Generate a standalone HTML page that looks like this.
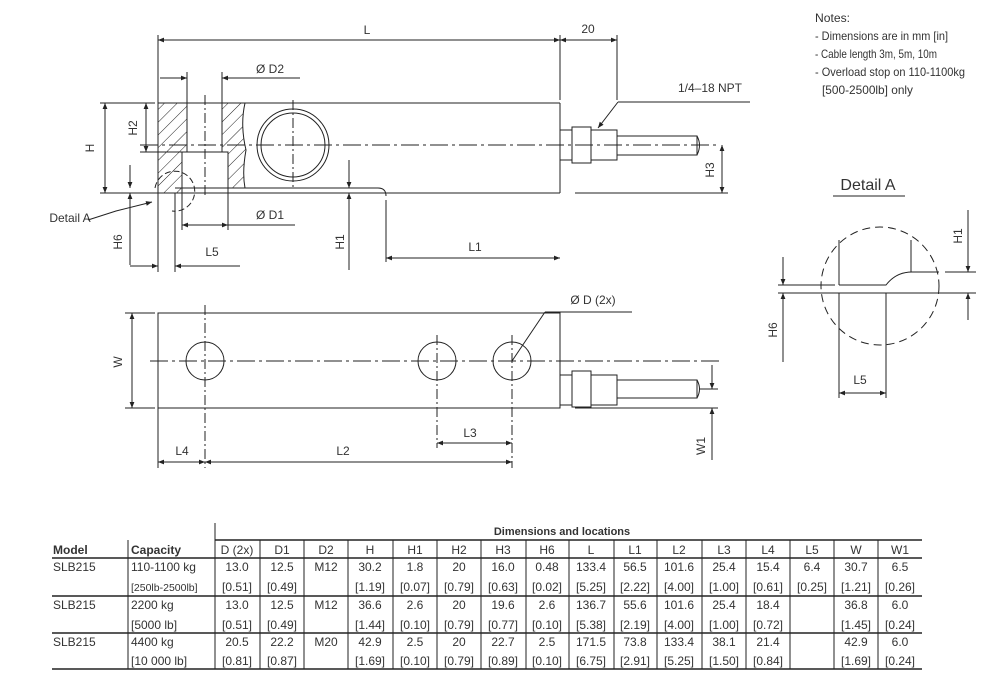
<!DOCTYPE html>
<html><head><meta charset="utf-8"><style>
html,body{margin:0;padding:0;background:#fff}
svg{display:block}
text{font-family:"Liberation Sans",sans-serif;font-size:12px;fill:#333}
</style></head><body>
<svg width="981" height="690" viewBox="0 0 981 690" xmlns="http://www.w3.org/2000/svg">
<defs>
<pattern id="h" width="9" height="9" patternUnits="userSpaceOnUse" patternTransform="rotate(45)">
<line x1="0" y1="0" x2="0" y2="9" stroke="#222" stroke-width="1"/></pattern>
<marker id="a" viewBox="0 0 10 10" refX="10" refY="5" markerWidth="10" markerHeight="6" orient="auto-start-reverse" markerUnits="userSpaceOnUse"><path d="M0,1 L10,5 L0,9z" fill="#222"/></marker>
</defs>
<g stroke="#222" stroke-width="1" fill="none">
<line x1="158" y1="103" x2="560" y2="103"/>
<line x1="560" y1="103" x2="560" y2="193"/>
<line x1="100" y1="193" x2="560" y2="193"/>
<path d="M175,188 L378,188 Q386,188 386,196"/>
<line x1="158" y1="35" x2="158" y2="272"/>
<line x1="560" y1="35" x2="560" y2="100"/>
<line x1="617" y1="35" x2="617" y2="100"/>
<path d="M158,103 H187 V152 H182 V193 H158Z" fill="url(#h)"/>
<path d="M222,103 H245 Q240,125 246,150 Q242,172 245,188 H228 V152 H222Z" fill="url(#h)"/>
<rect x="187" y="103" width="35" height="49"/>
<rect x="182" y="152" width="46" height="41"/>
<line x1="205" y1="95" x2="205" y2="198" stroke-dasharray="10,3,2,3"/>
<circle cx="293" cy="145" r="36"/><circle cx="293" cy="145" r="32"/>
<line x1="293" y1="100" x2="293" y2="190" stroke-dasharray="10,3,2,3"/>
<line x1="140" y1="145" x2="720" y2="145" stroke-dasharray="18,4,3,4"/>
<rect x="560" y="130" width="12" height="30"/>
<rect x="572" y="127" width="19" height="36"/>
<rect x="591" y="130" width="26" height="30"/>
<rect x="617" y="136" width="80" height="19"/>
<path d="M697,136 Q702,145 697,155"/>
<line x1="158" y1="40" x2="560" y2="40" marker-start="url(#a)" marker-end="url(#a)"/>
<line x1="560" y1="40" x2="617" y2="40" marker-start="url(#a)" marker-end="url(#a)"/>
<line x1="187" y1="72" x2="187" y2="103"/><line x1="222" y1="72" x2="222" y2="103"/>
<line x1="160" y1="78" x2="187" y2="78" marker-end="url(#a)"/>
<line x1="300" y1="78" x2="222" y2="78" marker-end="url(#a)"/>
<line x1="100" y1="103" x2="155" y2="103"/>
<line x1="105" y1="103" x2="105" y2="193" marker-start="url(#a)" marker-end="url(#a)"/>
<line x1="140" y1="152" x2="182" y2="152"/>
<line x1="146" y1="103" x2="146" y2="152" marker-start="url(#a)" marker-end="url(#a)"/>
<line x1="575" y1="193" x2="728" y2="193"/>
<line x1="722" y1="145" x2="722" y2="193" marker-start="url(#a)" marker-end="url(#a)"/>
<line x1="182" y1="193" x2="182" y2="230"/><line x1="228" y1="193" x2="228" y2="230"/>
<line x1="182" y1="225" x2="228" y2="225" marker-start="url(#a)" marker-end="url(#a)"/>
<line x1="228" y1="225" x2="295" y2="225"/>
<line x1="349" y1="160" x2="349" y2="188" marker-end="url(#a)"/>
<line x1="349" y1="270" x2="349" y2="193" marker-end="url(#a)"/>
<line x1="386" y1="200" x2="386" y2="262"/>
<line x1="386" y1="258" x2="560" y2="258" marker-start="url(#a)" marker-end="url(#a)"/>
<line x1="130" y1="165" x2="130" y2="188" marker-end="url(#a)"/>
<line x1="130" y1="265" x2="130" y2="193" marker-end="url(#a)"/>
<line x1="175" y1="193" x2="175" y2="272"/>
<line x1="130" y1="266" x2="158" y2="266" marker-end="url(#a)"/>
<line x1="240" y1="266" x2="175" y2="266" marker-end="url(#a)"/>
<path d="M155,188 A20,20 0 1 1 172,211" stroke-dasharray="6,3"/>
<path d="M88,220 L116,211 L152,202" marker-end="url(#a)"/>
<line x1="618" y1="102" x2="750" y2="102"/>
<line x1="618" y1="102" x2="598" y2="128" marker-end="url(#a)"/>
<rect x="158" y="313" width="402" height="95"/>
<circle cx="205" cy="361" r="19"/><circle cx="437" cy="361" r="19"/><circle cx="512" cy="361" r="19"/>
<line x1="150" y1="361" x2="720" y2="361" stroke-dasharray="18,4,3,4"/>
<line x1="205" y1="305" x2="205" y2="468" stroke-dasharray="10,3,2,3"/>
<line x1="437" y1="335" x2="437" y2="448" stroke-dasharray="10,3,2,3"/>
<line x1="512" y1="335" x2="512" y2="468" stroke-dasharray="10,3,2,3"/>
<rect x="560" y="375" width="12" height="30"/>
<rect x="572" y="371" width="19" height="36"/>
<rect x="591" y="375" width="26" height="30"/>
<rect x="617" y="380" width="80" height="18"/>
<path d="M697,380 Q702,389 697,398"/>
<line x1="125" y1="313" x2="155" y2="313"/><line x1="125" y1="408" x2="155" y2="408"/>
<line x1="132" y1="313" x2="132" y2="408" marker-start="url(#a)" marker-end="url(#a)"/>
<line x1="700" y1="389" x2="718" y2="389"/><line x1="575" y1="408" x2="718" y2="408"/>
<line x1="712" y1="365" x2="712" y2="389" marker-end="url(#a)"/>
<line x1="712" y1="460" x2="712" y2="408" marker-end="url(#a)"/>
<line x1="437" y1="443" x2="512" y2="443" marker-start="url(#a)" marker-end="url(#a)"/>
<line x1="158" y1="408" x2="158" y2="468"/>
<line x1="158" y1="462" x2="205" y2="462" marker-start="url(#a)" marker-end="url(#a)"/>
<line x1="205" y1="462" x2="512" y2="462" marker-start="url(#a)" marker-end="url(#a)"/>
<line x1="512" y1="361" x2="545" y2="312"/><line x1="545" y1="312" x2="632" y2="312"/>
<line x1="833" y1="196" x2="905" y2="196"/>
<circle cx="880" cy="286" r="59" stroke-dasharray="8,5"/>
<line x1="839" y1="240" x2="839" y2="285"/>
<path d="M839,285 H886 Q896,272 912,272 H939"/>
<line x1="911" y1="240" x2="911" y2="272"/>
<line x1="778" y1="285" x2="835" y2="285"/>
<line x1="778" y1="293" x2="976" y2="293"/>
<line x1="945" y1="272" x2="976" y2="272"/>
<line x1="839" y1="293" x2="839" y2="398"/>
<line x1="886" y1="293" x2="886" y2="398"/>
<line x1="839" y1="393" x2="886" y2="393" marker-start="url(#a)" marker-end="url(#a)"/>
<line x1="783" y1="257" x2="783" y2="285" marker-end="url(#a)"/>
<line x1="783" y1="362" x2="783" y2="293" marker-end="url(#a)"/>
<line x1="968" y1="210" x2="968" y2="272" marker-end="url(#a)"/>
<line x1="968" y1="320" x2="968" y2="293" marker-end="url(#a)"/>
<line x1="215" y1="523" x2="215" y2="669"/>
<line x1="215" y1="540" x2="922" y2="540" stroke-width="1.5"/>
<line x1="52" y1="558" x2="922" y2="558" stroke-width="1.5"/>
<line x1="52" y1="596" x2="922" y2="596" stroke-width="1.5"/>
<line x1="52" y1="633" x2="922" y2="633" stroke-width="1.5"/>
<line x1="52" y1="669" x2="922" y2="669" stroke-width="1.5"/>
<path d="M128,540 V669 M260,540 V669 M304,540 V669 M348,540 V669 M393,540 V669 M437,540 V669 M481,540 V669 M526,540 V669 M569,540 V669 M614,540 V669 M657,540 V669 M702,540 V669 M746,540 V669 M790,540 V669 M834,540 V669 M878,540 V669"/>
</g>
<g>
<text x="367" y="34" text-anchor="middle">L</text>
<text x="588" y="33" text-anchor="middle">20</text>
<text x="270" y="73" text-anchor="middle">Ø D2</text>
<text x="710" y="92" text-anchor="middle">1/4–18 NPT</text>
<text x="270" y="219" text-anchor="middle">Ø D1</text>
<text x="475" y="251" text-anchor="middle">L1</text>
<text x="212" y="256" text-anchor="middle">L5</text>
<text x="70" y="222" text-anchor="middle">Detail A</text>
<text transform="translate(94,148) rotate(-90)" text-anchor="middle">H</text>
<text transform="translate(137,128) rotate(-90)" text-anchor="middle">H2</text>
<text transform="translate(714,170) rotate(-90)" text-anchor="middle">H3</text>
<text transform="translate(344,242) rotate(-90)" text-anchor="middle">H1</text>
<text transform="translate(122,242) rotate(-90)" text-anchor="middle">H6</text>
<text transform="translate(122,362) rotate(-90)" text-anchor="middle">W</text>
<text transform="translate(705,446) rotate(-90)" text-anchor="middle">W1</text>
<text x="593" y="304" text-anchor="middle">Ø D (2x)</text>
<text x="470" y="437" text-anchor="middle">L3</text>
<text x="182" y="455" text-anchor="middle">L4</text>
<text x="343" y="455" text-anchor="middle">L2</text>
<text x="868" y="190" text-anchor="middle" style="font-size:16px">Detail A</text>
<text x="860" y="384" text-anchor="middle">L5</text>
<text transform="translate(962,236) rotate(-90)" text-anchor="middle">H1</text>
<text transform="translate(777,330) rotate(-90)" text-anchor="middle">H6</text>
<g style="font-size:11px">
<text x="815" y="22" textLength="35" lengthAdjust="spacingAndGlyphs">Notes:</text>
<text x="815" y="40" textLength="133" lengthAdjust="spacingAndGlyphs">- Dimensions are in mm [in]</text>
<text x="815" y="58" textLength="122" lengthAdjust="spacingAndGlyphs">- Cable length 3m, 5m, 10m</text>
<text x="815" y="76" textLength="150" lengthAdjust="spacingAndGlyphs">- Overload stop on 110-1100kg</text>
<text x="822" y="94" textLength="91" lengthAdjust="spacingAndGlyphs">[500-2500lb] only</text>
</g>
</g>
<g style="font-size:11.5px">
<text x="562" y="535" text-anchor="middle" style="font-weight:bold;font-size:11px">Dimensions and locations</text>
<text x="53" y="554" style="font-weight:bold">Model</text>
<text x="131" y="554" style="font-weight:bold">Capacity</text>
<g text-anchor="middle">
<text x="237" y="554">D (2x)</text><text x="282" y="554">D1</text><text x="326" y="554">D2</text><text x="370" y="554">H</text><text x="415" y="554">H1</text><text x="459" y="554">H2</text><text x="503" y="554">H3</text><text x="547" y="554">H6</text><text x="591" y="554">L</text><text x="635" y="554">L1</text><text x="679" y="554">L2</text><text x="724" y="554">L3</text><text x="768" y="554">L4</text><text x="812" y="554">L5</text><text x="856" y="554">W</text><text x="900" y="554">W1</text>
</g>
<text x="53" y="571">SLB215</text><text x="131" y="571">110-1100 kg</text><text x="131" y="591" style="font-size:10.5px">[250lb-2500lb]</text>
<text x="53" y="609">SLB215</text><text x="131" y="609">2200 kg</text><text x="131" y="629">[5000 lb]</text>
<text x="53" y="646">SLB215</text><text x="131" y="646">4400 kg</text><text x="131" y="665">[10 000 lb]</text>
<g text-anchor="middle">
<text x="237" y="571">13.0</text><text x="282" y="571">12.5</text><text x="326" y="571">M12</text><text x="370" y="571">30.2</text><text x="415" y="571">1.8</text><text x="459" y="571">20</text><text x="503" y="571">16.0</text><text x="547" y="571">0.48</text><text x="591" y="571">133.4</text><text x="635" y="571">56.5</text><text x="679" y="571">101.6</text><text x="724" y="571">25.4</text><text x="768" y="571">15.4</text><text x="812" y="571">6.4</text><text x="856" y="571">30.7</text><text x="900" y="571">6.5</text>
<text x="237" y="591">[0.51]</text><text x="282" y="591">[0.49]</text><text x="370" y="591">[1.19]</text><text x="415" y="591">[0.07]</text><text x="459" y="591">[0.79]</text><text x="503" y="591">[0.63]</text><text x="547" y="591">[0.02]</text><text x="591" y="591">[5.25]</text><text x="635" y="591">[2.22]</text><text x="679" y="591">[4.00]</text><text x="724" y="591">[1.00]</text><text x="768" y="591">[0.61]</text><text x="812" y="591">[0.25]</text><text x="856" y="591">[1.21]</text><text x="900" y="591">[0.26]</text>
<text x="237" y="609">13.0</text><text x="282" y="609">12.5</text><text x="326" y="609">M12</text><text x="370" y="609">36.6</text><text x="415" y="609">2.6</text><text x="459" y="609">20</text><text x="503" y="609">19.6</text><text x="547" y="609">2.6</text><text x="591" y="609">136.7</text><text x="635" y="609">55.6</text><text x="679" y="609">101.6</text><text x="724" y="609">25.4</text><text x="768" y="609">18.4</text><text x="856" y="609">36.8</text><text x="900" y="609">6.0</text>
<text x="237" y="629">[0.51]</text><text x="282" y="629">[0.49]</text><text x="370" y="629">[1.44]</text><text x="415" y="629">[0.10]</text><text x="459" y="629">[0.79]</text><text x="503" y="629">[0.77]</text><text x="547" y="629">[0.10]</text><text x="591" y="629">[5.38]</text><text x="635" y="629">[2.19]</text><text x="679" y="629">[4.00]</text><text x="724" y="629">[1.00]</text><text x="768" y="629">[0.72]</text><text x="856" y="629">[1.45]</text><text x="900" y="629">[0.24]</text>
<text x="237" y="646">20.5</text><text x="282" y="646">22.2</text><text x="326" y="646">M20</text><text x="370" y="646">42.9</text><text x="415" y="646">2.5</text><text x="459" y="646">20</text><text x="503" y="646">22.7</text><text x="547" y="646">2.5</text><text x="591" y="646">171.5</text><text x="635" y="646">73.8</text><text x="679" y="646">133.4</text><text x="724" y="646">38.1</text><text x="768" y="646">21.4</text><text x="856" y="646">42.9</text><text x="900" y="646">6.0</text>
<text x="237" y="665">[0.81]</text><text x="282" y="665">[0.87]</text><text x="370" y="665">[1.69]</text><text x="415" y="665">[0.10]</text><text x="459" y="665">[0.79]</text><text x="503" y="665">[0.89]</text><text x="547" y="665">[0.10]</text><text x="591" y="665">[6.75]</text><text x="635" y="665">[2.91]</text><text x="679" y="665">[5.25]</text><text x="724" y="665">[1.50]</text><text x="768" y="665">[0.84]</text><text x="856" y="665">[1.69]</text><text x="900" y="665">[0.24]</text>
</g>
</g>
</svg>
</body></html>
